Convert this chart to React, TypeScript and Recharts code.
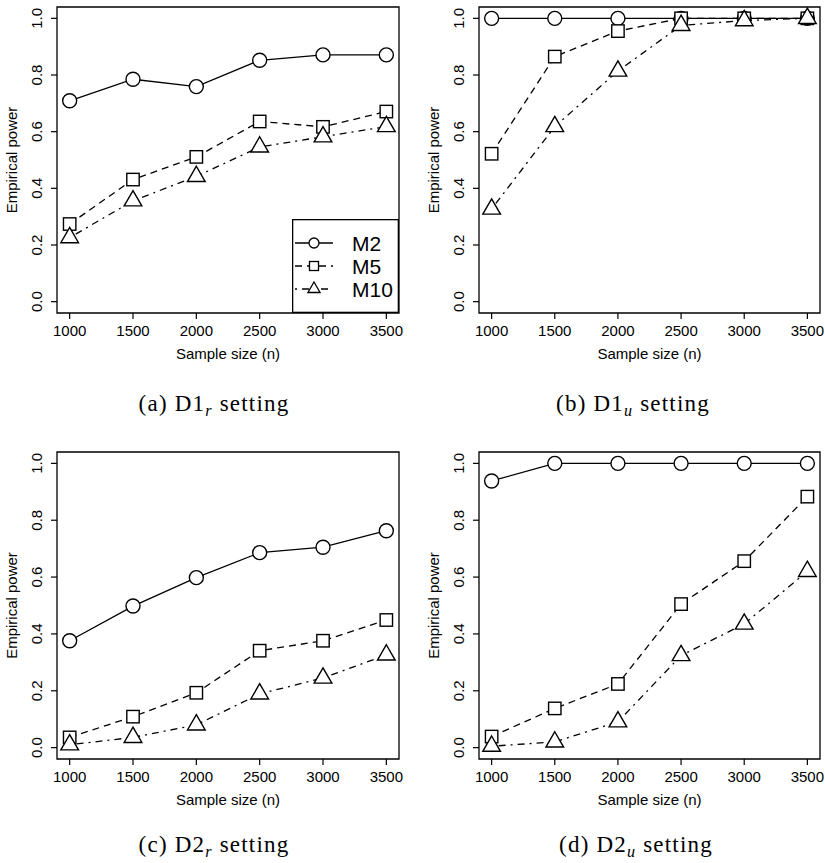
import React from "react";
import { Legend, Line, LineChart, ReferenceArea, XAxis, YAxis } from "recharts";

const sampleSizes = [1000, 1500, 2000, 2500, 3000, 3500];
const yTicks = [0, 0.2, 0.4, 0.6, 0.8, 1.0];

// (a) D1_r
const d1rM2 = [0.709, 0.785, 0.759, 0.852, 0.871, 0.871];
const d1rM5 = [0.274, 0.431, 0.511, 0.636, 0.617, 0.671];
const d1rM10 = [0.226, 0.356, 0.442, 0.546, 0.582, 0.618];

// (b) D1_u
const d1uM2 = [1, 1, 1, 1, 1, 1];
const d1uM5 = [0.522, 0.865, 0.955, 1.0, 1.0, 1.0];
const d1uM10 = [0.327, 0.618, 0.814, 0.975, 0.992, 1.0];

// (c) D2_r
const d2rM2 = [0.376, 0.498, 0.598, 0.686, 0.705, 0.763];
const d2rM5 = [0.036, 0.109, 0.193, 0.341, 0.376, 0.449];
const d2rM10 = [0.01, 0.036, 0.08, 0.189, 0.245, 0.326];

// (d) D2_u
const d2uM2 = [0.938, 1, 1, 1, 1, 1];
const d2uM5 = [0.039, 0.138, 0.224, 0.505, 0.656, 0.883];
const d2uM10 = [0.005, 0.02, 0.091, 0.324, 0.435, 0.62];

const sans = "'Liberation Sans', Arial, Helvetica, sans-serif";
const serif = "'Liberation Serif', 'Times New Roman', serif";
const dash5 = "7 5";
const dash10 = "2 5 7 5";

const CircleDot = (p: any) =>
  p.cx == null ? null : (
    <circle key={p.key} cx={p.cx} cy={p.cy} r={7} fill="#fff" stroke="#000" strokeWidth={1.4} />
  );

const SquareDot = (p: any) =>
  p.cx == null ? null : (
    <rect key={p.key} x={p.cx - 6.2} y={p.cy - 6.2} width={12.4} height={12.4} fill="#fff" stroke="#000" strokeWidth={1.4} />
  );

const triPath = (cx: number, cy: number, r: number) =>
  `M${cx},${cy - r} L${cx + r * 0.866},${cy + r / 2} L${cx - r * 0.866},${cy + r / 2} Z`;

const TriangleDot = (p: any) =>
  p.cx == null ? null : (
    <path key={p.key} d={triPath(p.cx, p.cy, 10.2)} fill="#fff" stroke="#000" strokeWidth={1.4} />
  );

const YTick = (p: any) => (
  <text
    transform={`translate(${p.x - 7},${p.y}) rotate(-90)`}
    textAnchor="middle"
    fontSize={15}
    fill="#000"
    fontFamily={sans}
  >
    {Number(p.payload.value).toFixed(1)}
  </text>
);

function LegendBox() {
  const rows = [
    { name: "M2", dash: undefined, sym: "circle" },
    { name: "M5", dash: dash5, sym: "square" },
    { name: "M10", dash: dash10, sym: "triangle" },
  ];
  return (
    <svg width={107} height={94} style={{ display: "block" }}>
      <rect x={0.65} y={0.65} width={105.7} height={92.7} fill="#fff" stroke="#000" strokeWidth={1.3} />
      {rows.map((r, i) => {
        const y = 24 + i * 23;
        return (
          <g key={r.name}>
            <line x1={3} x2={41} y1={y} y2={y} stroke="#000" strokeWidth={1.3} strokeDasharray={r.dash} />
            {r.sym === "circle" && <circle cx={22} cy={y} r={5} fill="#fff" stroke="#000" strokeWidth={1.3} />}
            {r.sym === "square" && (
              <rect x={17.5} y={y - 4.5} width={9} height={9} fill="#fff" stroke="#000" strokeWidth={1.3} />
            )}
            {r.sym === "triangle" && <path d={triPath(22, y, 7)} fill="#fff" stroke="#000" strokeWidth={1.3} />}
            <text x={60} y={y + 7.5} fontSize={21} fill="#000" fontFamily={sans}>
              {r.name}
            </text>
          </g>
        );
      })}
    </svg>
  );
}

type PanelProps = {
  plotLeft: number;
  plotTop: number;
  plotWidth: number;
  plotHeight: number;
  m2: number[];
  m5: number[];
  m10: number[];
  showLegend?: boolean;
};

function Panel({ plotLeft, plotTop, plotWidth, plotHeight, m2, m5, m10, showLegend }: PanelProps) {
  const data = sampleSizes.map((n, i) => ({ n, m2: m2[i], m5: m5[i], m10: m10[i] }));
  const chartLeft = plotLeft - 57;
  const chartTop = plotTop - 7;
  const midY = 7 + plotHeight / 2;

  return (
    <div style={{ position: "absolute", left: chartLeft, top: chartTop }}>
      <LineChart
        width={57 + plotWidth + 6}
        height={7 + plotHeight + 60}
        data={data}
        margin={{ top: 7, right: 6, bottom: 0, left: 0 }}
      >
        <XAxis
          dataKey="n"
          type="number"
          domain={[900, 3600]}
          ticks={sampleSizes}
          interval={0}
          allowDataOverflow
          axisLine={false}
          tickLine={{ stroke: "#000", strokeWidth: 1.2 }}
          tickSize={6}
          tickMargin={6}
          height={60}
          tick={{ fontSize: 15, fill: "#000", fontFamily: sans }}
          label={{
            value: "Sample size (n)",
            position: "insideBottom",
            offset: 14,
            fill: "#000",
            fontSize: 15,
            fontFamily: sans,
          }}
        />
        <YAxis
          type="number"
          domain={[-0.04, 1.04]}
          ticks={yTicks}
          interval={0}
          allowDataOverflow
          width={57}
          axisLine={false}
          tickLine={{ stroke: "#000", strokeWidth: 1.2 }}
          tickSize={6}
          tick={YTick}
          label={() => (
            <text
              transform={`translate(17,${midY}) rotate(-90)`}
              textAnchor="middle"
              fontSize={15}
              fill="#000"
              fontFamily={sans}
            >
              Empirical power
            </text>
          )}
        />
        <ReferenceArea x1={900} x2={3600} y1={-0.04} y2={1.04} fill="none" stroke="#000" strokeWidth={1.3} />
        <Line dataKey="m2" stroke="#000" strokeWidth={1.3} dot={CircleDot} isAnimationActive={false} />
        <Line
          dataKey="m5"
          stroke="#000"
          strokeWidth={1.3}
          strokeDasharray={dash5}
          dot={SquareDot}
          isAnimationActive={false}
        />
        <Line
          dataKey="m10"
          stroke="#000"
          strokeWidth={1.3}
          strokeDasharray={dash10}
          dot={TriangleDot}
          isAnimationActive={false}
        />
        {showLegend && (
          <Legend
            layout="vertical"
            align="center"
            verticalAlign="middle"
            wrapperStyle={{ left: 292 - chartLeft, top: 219 - chartTop, width: 107, height: 94 }}
            content={() => <LegendBox />}
          />
        )}
      </LineChart>
    </div>
  );
}

function Caption({ x, y, letter, main, sub }: { x: number; y: number; letter: string; main: string; sub: string }) {
  return (
    <div
      style={{
        position: "absolute",
        left: x - 150,
        top: y - 12,
        width: 300,
        textAlign: "center",
        fontFamily: serif,
        fontSize: 23,
        lineHeight: "22px",
        letterSpacing: "1.2px",
        color: "#000",
        whiteSpace: "nowrap",
      }}
    >
      ({letter}) {main}
      <span style={{ fontSize: "0.7em", fontStyle: "italic", verticalAlign: "-0.3em" }}>{sub}</span> setting
    </div>
  );
}

export default function App() {
  return (
    <div style={{ position: "absolute", left: 0, top: 0, width: 825, height: 863, background: "#fff" }}>
      <Panel plotLeft={57} plotTop={7} plotWidth={342} plotHeight={306} m2={d1rM2} m5={d1rM5} m10={d1rM10} showLegend />
      <Panel plotLeft={479} plotTop={7} plotWidth={341} plotHeight={306} m2={d1uM2} m5={d1uM5} m10={d1uM10} />
      <Panel plotLeft={57} plotTop={452} plotWidth={342} plotHeight={307} m2={d2rM2} m5={d2rM5} m10={d2rM10} />
      <Panel plotLeft={479} plotTop={452} plotWidth={341} plotHeight={307} m2={d2uM2} m5={d2uM5} m10={d2uM10} />
      <Caption x={214} y={405} letter="a" main="D1" sub="r" />
      <Caption x={633} y={405} letter="b" main="D1" sub="u" />
      <Caption x={214} y={846} letter="c" main="D2" sub="r" />
      <Caption x={636} y={846} letter="d" main="D2" sub="u" />
    </div>
  );
}
